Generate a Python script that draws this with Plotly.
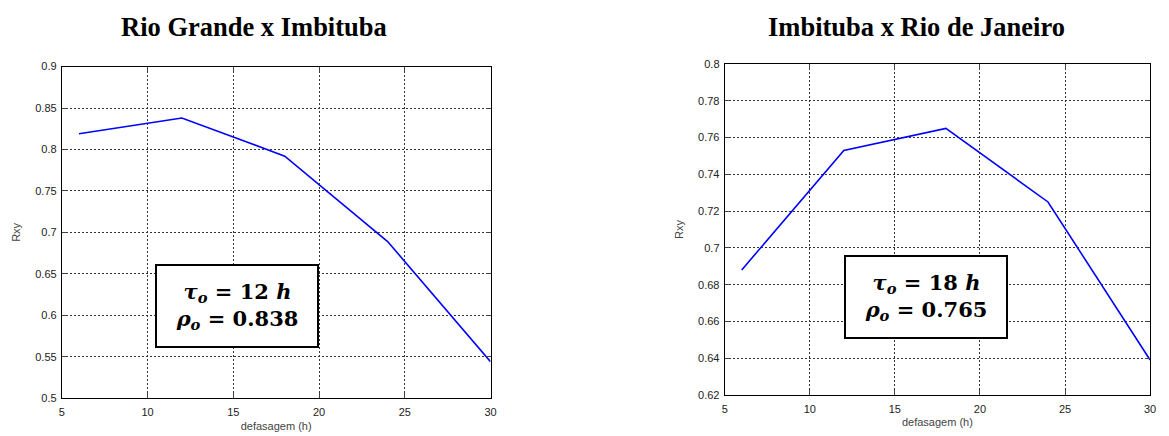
import plotly.graph_objects as go

lags = [6, 12, 18, 24, 30]
rxy_rg_imb = [0.819, 0.838, 0.792, 0.689, 0.544]
rxy_imb_rj = [0.688, 0.753, 0.765, 0.725, 0.639]

titles = ["Rio Grande x Imbituba", "Imbituba x Rio de Janeiro"]
box_texts = [
    "<b><i>τ<sub>o</sub></i> = 12 <i>h</i></b><br><b><i>ρ<sub>o</sub></i> = 0.838</b>",
    "<b><i>τ<sub>o</sub></i> = 18 <i>h</i></b><br><b><i>ρ<sub>o</sub></i> = 0.765</b>",
]
x_ticks = [5, 10, 15, 20, 25, 30]
y1_ticks = [0.5, 0.55, 0.6, 0.65, 0.7, 0.75, 0.8, 0.85, 0.9]
y1_labels = ["0.5", "0.55", "0.6", "0.65", "0.7", "0.75", "0.8", "0.85", "0.9"]
y2_ticks = [0.62, 0.64, 0.66, 0.68, 0.7, 0.72, 0.74, 0.76, 0.78, 0.8]
y2_labels = ["0.62", "0.64", "0.66", "0.68", "0.7", "0.72", "0.74", "0.76", "0.78", "0.8"]

W, H = 1169, 436

fig = go.Figure()
fig.add_trace(go.Scatter(x=lags, y=rxy_rg_imb, mode="lines",
                         line=dict(color="#0000ff", width=1.6),
                         xaxis="x", yaxis="y", showlegend=False))
fig.add_trace(go.Scatter(x=lags, y=rxy_imb_rj, mode="lines",
                         line=dict(color="#0000ff", width=1.6),
                         xaxis="x2", yaxis="y2", showlegend=False))

tick_font = dict(family="Liberation Sans, Arial", size=11, color="#222")
title_font = dict(family="Liberation Sans, Arial", size=11, color="#444")

common_x = dict(range=[5, 30], tickvals=x_ticks, showgrid=True,
                gridcolor="#333", griddash="2px,2px", gridwidth=1,
                showline=True, linecolor="#000", linewidth=1, mirror="ticks",
                ticks="inside", ticklen=5, tickcolor="#444",
                tickfont=tick_font, zeroline=False, ticklabelstandoff=4,
                title=dict(text="defasagem (h)", font=title_font, standoff=4))
common_y = dict(showgrid=True, gridcolor="#333", griddash="2px,2px", gridwidth=1,
                showline=True, linecolor="#000", linewidth=1, mirror="ticks",
                ticks="inside", ticklen=5, tickcolor="#444",
                tickfont=tick_font, zeroline=False, ticklabelstandoff=2,
                title=dict(text="Rxy", font=title_font, standoff=12))

fig.update_layout(
    width=W, height=H, autosize=False,
    margin=dict(l=0, r=0, t=0, b=0),
    paper_bgcolor="white", plot_bgcolor="white",
    xaxis=dict(domain=[59.3 / W, 491.3 / W], anchor="y", **common_x),
    yaxis=dict(domain=[1 - 403.3 / H, 1 - 62.3 / H], anchor="x",
               range=[0.5, 0.9], tickvals=y1_ticks, ticktext=y1_labels, **common_y),
    xaxis2=dict(domain=[727.3 / W, 1156 / W], anchor="y2", **common_x),
    yaxis2=dict(domain=[1 - 400 / H, 1 - 59.7 / H], anchor="x2",
                range=[0.62, 0.8], tickvals=y2_ticks, ticktext=y2_labels, **common_y),
)

title_pos = [(252.5, 22), (920.3, 22)]
box_pos = [(235.5, 308.8), (930.3, 299.2)]
for i in range(2):
    fig.add_annotation(text="<b>" + titles[i] + "</b>", xref="paper", yref="paper",
                       x=title_pos[i][0] / W, y=1 - title_pos[i][1] / H,
                       xanchor="center", yanchor="middle", showarrow=False,
                       font=dict(family="Liberation Serif, Times New Roman", size=26.5, color="#000"))
    fig.add_annotation(text=box_texts[i], xref="paper", yref="paper",
                       x=box_pos[i][0] / W, y=1 - box_pos[i][1] / H,
                       xanchor="center", yanchor="middle", showarrow=False,
                       width=160, height=80, borderpad=0, borderwidth=2,
                       bordercolor="#000", bgcolor="white", align="center",
                       font=dict(family="DejaVu Serif", size=21, color="#000"))

fig.write_html("out.html", config={"displayModeBar": False},
               post_script="document.body.style.margin='0';document.body.style.overflow='hidden';")
